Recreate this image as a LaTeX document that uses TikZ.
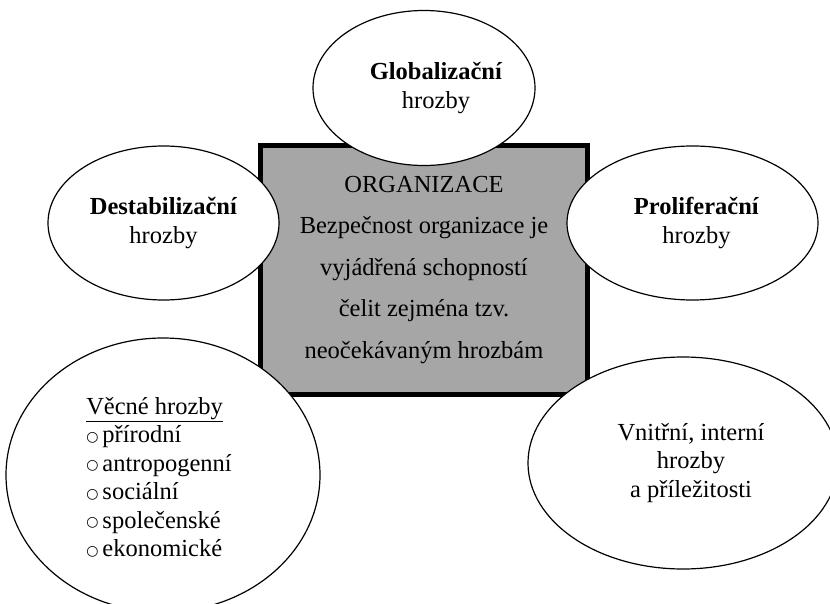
\documentclass[tikz,border=0pt]{standalone}
\usepackage{fontspec}
\setmainfont{Liberation Serif}
\newfontfamily\bulletfont{DejaVu Sans}
\usetikzlibrary{shapes,positioning}
\newcommand{\bul}{\raisebox{1.5pt}{\bulletfont\fontsize{14}{28.5}\selectfont ○}\hspace{4pt}}

\begin{document}
\begin{tikzpicture}[x=1pt,y=-1pt,font=\fontsize{24.5}{28.5}\selectfont]
\tikzstyle{threat}=[ellipse,draw=black,line width=1.2pt,fill=white,inner sep=0pt]
\tikzstyle{org}=[rectangle,draw=black,line width=4.5pt,fill=black!35,inner sep=0pt]
\tikzstyle{txt}=[align=center,inner sep=0pt]
\path[use as bounding box,clip] (0,0) rectangle (830,604);

\node[org,minimum width=327pt,minimum height=249pt] (O) at (424,270) {};
\node[txt,font=\fontsize{24.5}{41.5}\selectfont] (OT) at (O) {ORGANIZACE\\Bezpečnost organizace je\\vyjádřená schopností\\čelit zejména tzv.\\neočekávaným hrozbám};

\node[threat,minimum width=222pt,minimum height=155pt] (G) at (424,88) {};
\node[threat,minimum width=231pt,minimum height=154pt] (D) at (163.5,223) {};
\node[threat,minimum width=251pt,minimum height=154pt] (P) at (692.5,223) {};
\node[threat,minimum width=314pt,minimum height=274pt] (V) at (163,475) {};
\node[threat,minimum width=310pt,minimum height=212pt] (I) at (683,463) {};

\node[txt] (GT) at ([xshift=12pt]G.center) {\textbf{Globalizační}\\hrozby};
\node[txt] (DT) at (D) {\textbf{Destabilizační}\\hrozby};
\node[txt] (PT) at ([xshift=4pt]P.center) {\textbf{Proliferační}\\hrozby};
\node[txt,align=left] (VT) at ([xshift=-4pt,yshift=-2pt]V.center) {\underline{Věcné hrozby}\\\bul přírodní\\\bul antropogenní\\\bul sociální\\\bul společenské\\\bul ekonomické};
\node[txt] (IT) at ([xshift=8pt]I.center) {Vnitřní, interní\\hrozby\\a příležitosti};
\end{tikzpicture}
\end{document}
